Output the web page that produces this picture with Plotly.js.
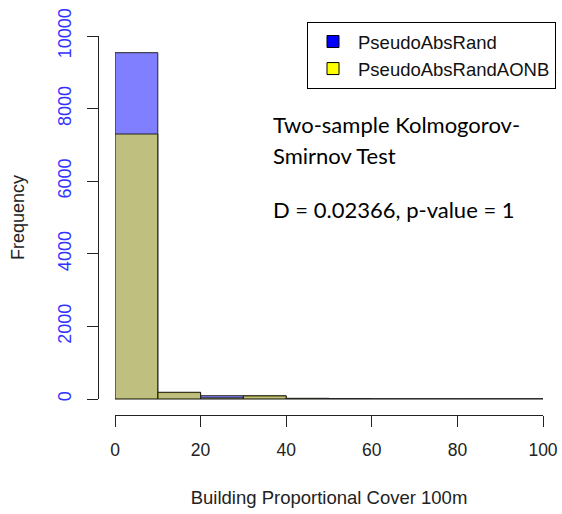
<!DOCTYPE html>
<html>
<head>
<meta charset="utf-8">
<script src="https://cdn.plot.ly/plotly-3.0.1.min.js"></script>
<style>
  html, body { margin: 0; padding: 0; background: #fff; }
  #chart { width: 562px; height: 514px; }
</style>
</head>
<body>
<div id="chart"></div>
<script>
// Histogram bins of building proportional cover (100 m), width 10
const binStarts = [0, 10, 20, 30, 40, 50, 60, 70, 80, 90];
const binWidth = 10;
const countsRand = [9540, 175, 90, 80, 15, 10, 0, 0, 0, 0];
const countsRandAONB = [7300, 185, 30, 90, 18, 12, 0, 0, 0, 0];
const seriesNames = ["PseudoAbsRand", "PseudoAbsRandAONB"];
const xTicks = [0, 20, 40, 60, 80, 100];
const yTicks = [0, 2000, 4000, 6000, 8000, 10000];
const noteLines = ["Two-sample Kolmogorov-", "Smirnov Test", "D = 0.02366, p-value = 1"];

const binCenters = binStarts.map(s => s + binWidth / 2);
const edge = { color: "#222", width: 1 };

const traces = [
  { type: "bar", x: binCenters, y: countsRand, width: binWidth,
    marker: { color: "rgba(0,0,255,0.5)", line: edge }, showlegend: false, hoverinfo: "x+y" },
  { type: "bar", x: binCenters, y: countsRandAONB, width: binWidth,
    marker: { color: "rgba(255,255,0,0.5)", line: edge }, showlegend: false, hoverinfo: "x+y" },
  // solid swatches for the key
  { type: "bar", x: [null], y: [null], name: seriesNames[0],
    marker: { color: "#0000ff", line: { color: "#000", width: 1 } } },
  { type: "bar", x: [null], y: [null], name: seriesNames[1],
    marker: { color: "#ffff00", line: { color: "#000", width: 1 } } }
];

const W = 562, H = 514;
const mL = 98, mR = 19, mT = 36, mB = 99;
const plotW = W - mL - mR, plotH = H - mT - mB;

const annotations = noteLines.map((t, i) => ({
  text: t, xref: "paper", yref: "paper",
  x: (271 - mL) / plotW, y: (415 - [124, 155, 209][i]) / plotH,
  xanchor: "left", yanchor: "middle", showarrow: false,
  font: { family: "Lato, 'Noto Sans', sans-serif", size: 22, color: "#000" }
}));

const layout = {
  width: W, height: H,
  margin: { l: mL, r: mR, t: mT, b: mB, pad: 0, autoexpand: false },
  paper_bgcolor: "#fff", plot_bgcolor: "#fff",
  barmode: "overlay", bargap: 0,
  font: { family: "'Liberation Sans', Arial, sans-serif", color: "#222" },
  xaxis: {
    domain: [(115 - mL) / plotW, 1],
    range: [0, 100], tickvals: xTicks, ticktext: xTicks.map(String),
    anchor: "free", position: 0, automargin: false,
    showline: true, linecolor: "#222", linewidth: 1,
    ticks: "outside", ticklen: 11, tickcolor: "#222",
    ticklabelstandoff: 8,
    showgrid: false, zeroline: false,
    tickfont: { size: 17.5, color: "#222" },
    title: { text: "Building Proportional Cover 100m", font: { size: 18.5, color: "#222" }, standoff: 32 }
  },
  yaxis: {
    domain: [16 / plotH, 1],
    range: [0, 10000], tickvals: yTicks, ticktext: yTicks.map(String),
    anchor: "free", position: 0, automargin: false,
    showline: true, linecolor: "#222", linewidth: 1,
    ticks: "outside", ticklen: 11, tickcolor: "#222",
    tickangle: -90, ticklabelstandoff: 9,
    showgrid: false, zeroline: true, zerolinecolor: "#888", zerolinewidth: 1,
    tickfont: { size: 18, color: "#3333ff" },
    title: { text: "Frequency", font: { size: 18, color: "#222" }, standoff: 24 }
  },
  legend: {
    x: (307 - mL) / plotW, y: (415 - 22) / plotH, xanchor: "left", yanchor: "top",
    bgcolor: "#fff", bordercolor: "#000", borderwidth: 1,
    font: { size: 18.5, color: "#111" },
    itemwidth: 40, tracegroupgap: 0
  },
  annotations: annotations
};

Plotly.newPlot("chart", traces, layout, { displayModeBar: false, staticPlot: true });
</script>
</body>
</html>
